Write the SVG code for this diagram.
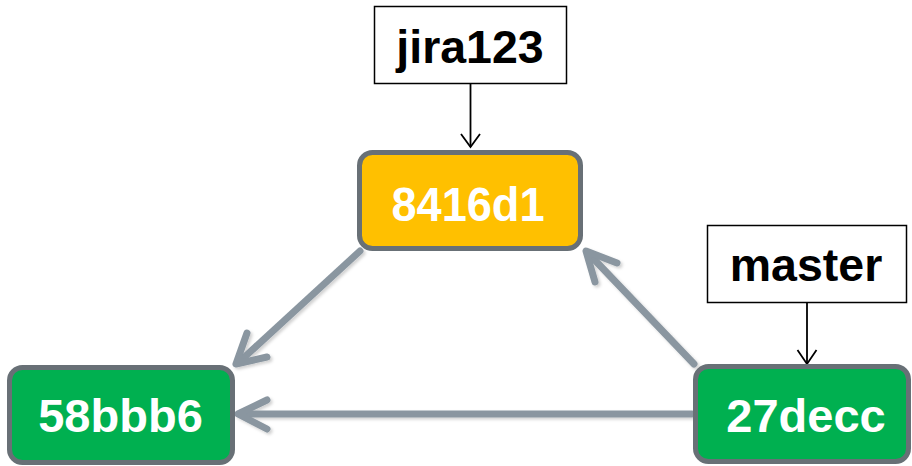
<svg xmlns="http://www.w3.org/2000/svg" width="912" height="466" viewBox="0 0 912 466">
<defs>
<style>
.commit{stroke:#687076;stroke-width:5}
.green{fill:#00B050}
.yellow{fill:#FFC000}
.ctext{font-family:"Liberation Sans",Arial,sans-serif;font-weight:bold;font-size:47px;fill:#FFFFFF;text-anchor:middle}
.label{fill:#FFFFFF;stroke:#000000;stroke-width:1.5}
.ltext{font-family:"Liberation Sans",Arial,sans-serif;font-weight:bold;font-size:46.5px;fill:#000000;text-anchor:middle}
.edge{fill:none;stroke:#8A96A0;stroke-width:7;stroke-linecap:round;stroke-linejoin:round}
.ptr{fill:none;stroke:#000000;stroke-width:1.8}
</style>
<filter id="sh" x="-10%" y="-10%" width="130%" height="130%">
<feDropShadow dx="2" dy="2" stdDeviation="1.5" flood-color="#000" flood-opacity="0.18"/>
</filter>
</defs>
<rect width="912" height="466" fill="#FFFFFF"/>
<g id="connectors">
<g filter="url(#sh)">
<path class="edge" d="M360,251 L238,363"/>
<path class="edge" d="M247,333 L236,364 L267,357"/>
<path class="edge" d="M692,414 L240,414"/>
<path class="edge" d="M267,400 L238,414 L267,429"/>
<path class="edge" d="M694,364 L588,253"/>
<path class="edge" d="M617,263 L586,251 L595,282"/>
</g>
<path class="ptr" d="M470.5,84 V147"/>
<path class="ptr" d="M461,134 L470.5,147 L480,134"/>
<path class="ptr" d="M807,303 V364"/>
<path class="ptr" d="M797.5,350 L807,364 L816.5,350"/>
</g>
<g id="n8416d1">
<rect class="commit yellow" x="359.5" y="152.5" width="221" height="96" rx="13"/>
<text class="ctext" x="468" y="221" style="font-size:49px" textLength="153" lengthAdjust="spacingAndGlyphs">8416d1</text>
</g>
<g id="n58bbb6">
<rect class="commit green" x="9.5" y="367.5" width="223" height="95" rx="13"/>
<text class="ctext" x="120.5" y="431.5">58bbb6</text>
</g>
<g id="n27decc">
<rect class="commit green" x="695.5" y="366.5" width="213" height="95" rx="13"/>
<text class="ctext" x="806" y="432">27decc</text>
</g>
<g id="jira123">
<rect class="label" x="374.5" y="6.5" width="192" height="77"/>
<text class="ltext" x="470" y="63">jira123</text>
</g>
<g id="master">
<rect class="label" x="707.5" y="225.5" width="199" height="77"/>
<text class="ltext" x="806" y="281">master</text>
</g>
</svg>
